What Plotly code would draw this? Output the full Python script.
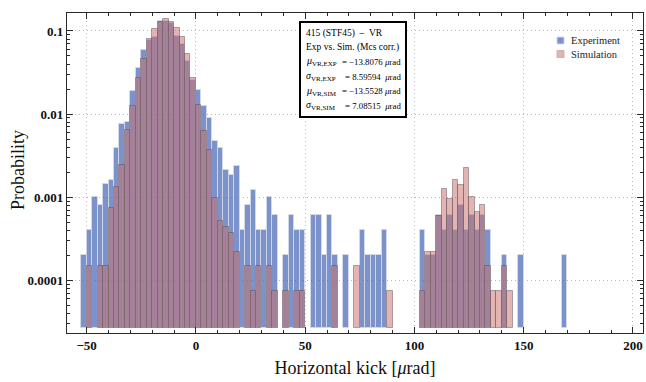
import numpy as np
import plotly.graph_objects as go

# ---- data (probability per 2.5 urad bin) ----
bin_width = 2.5
bin_left = np.arange(-52.5, 170.0, bin_width)   # left edges of bins
experiment = [
    2.04e-4, 4.08e-4, 1.02e-3, 8.16e-4, 1.43e-3, 1.63e-3, 3.87e-3, 7.5e-3, 8.1e-3, 1.9e-2,
    3.55e-2, 5.9e-2, 7.7e-2, 8.4e-2, 0.132, 0.130, 0.126, 0.088, 0.069, 0.043,
    0.0255, 0.0195, 0.0126, 9.1e-3, 4.7e-3, 3.9e-3, 2.1e-3, 1.85e-3, 2.4e-3, 4.08e-4,
    8.16e-4, 1.22e-3, 4.08e-4, 4.08e-4, 1.02e-3, 6.12e-4, 0, 2.04e-4, 6.12e-4, 4.08e-4,
    4.08e-4, 0, 6.12e-4, 6.12e-4, 2.04e-4, 6.12e-4, 2.04e-4, 0, 2.04e-4, 0,
    0, 4.08e-4, 2.04e-4, 2.04e-4, 2.04e-4, 4.08e-4, 0, 0, 0, 0,
    0, 0, 4.08e-4, 2.04e-4, 2.04e-4, 6.12e-4, 4.08e-4, 6.12e-4, 4.08e-4, 8.16e-4,
    4.08e-4, 6.12e-4, 4.08e-4, 6.12e-4, 4.08e-4, 0, 0, 2.04e-4, 0, 0,
    2.04e-4, 0, 0, 0, 0, 0, 0, 0, 2.04e-4,
]
simulation = [
    0, 1.48e-4, 0, 1.48e-4, 1.48e-4, 7.4e-4, 1.32e-3, 2.44e-3, 6.4e-3, 1.25e-2,
    2.69e-2, 4.56e-2, 7.9e-2, 0.107, 0.129, 0.138, 0.127, 0.110, 0.0855, 0.0528,
    0.027, 0.0129, 6.2e-3, 3.7e-3, 9.8e-4, 5.2e-4, 4.4e-4, 3.7e-4, 2.2e-4, 0,
    1.48e-4, 7.4e-5, 1.48e-4, 0, 1.48e-4, 7.4e-5, 0, 7.4e-5, 0, 7.4e-5,
    7.4e-5, 0, 0, 0, 0, 0, 1.48e-4, 0, 0, 0,
    1.48e-4, 0, 0, 0, 0, 0, 7.4e-5, 0, 0, 0,
    0, 0, 7.4e-5, 2.22e-4, 2.22e-4, 5.9e-4, 1.24e-3, 9.4e-4, 1.6e-3, 1.4e-3,
    2.25e-3, 1.0e-3, 6.6e-4, 8.0e-4, 1.48e-4, 7.4e-5, 7.4e-5, 1.48e-4, 7.4e-5, 0,
    0, 0, 0, 0, 0, 0, 0, 0, 0,
]
x_ticks = [-50, 0, 50, 100, 150, 200]
y_ticks = [1e-4, 1e-3, 1e-2, 1e-1]
y_ticktext = ["0.0001", "0.001", "0.01", "0.1"]
info_lines = [
    ("415 (STF45)  \u2013  VR", None),
    ("Exp vs. Sim. (Mcs corr.)", None),
    ("<i>\u03bc</i><sub>VR,EXP</sub>", "= \u221213.8076 <i>\u03bc</i>rad"),
    ("<i>\u03c3</i><sub>VR,EXP</sub>", "= 8.59594  <i>\u03bc</i>rad"),
    ("<i>\u03bc</i><sub>VR,SIM</sub>", "= \u221213.5528 <i>\u03bc</i>rad"),
    ("<i>\u03c3</i><sub>VR,SIM</sub>", "= 7.08515  <i>\u03bc</i>rad"),
]
series_names = ["Experiment", "Simulation"]
x_title = "Horizontal kick [<i>\u03bc</i>rad]"
y_title = "Probability"

BASE = 2.67e-5
centers = bin_left + bin_width / 2

blue_fill = "rgba(62,95,178,0.68)"
pink_fill = "rgba(204,112,108,0.52)"
blue_edge = "rgba(215,218,232,0.85)"
pink_edge = "rgba(85,75,85,0.45)"

def heights(vals):
    return [v - BASE if v > 0 else None for v in vals]

fig = go.Figure()
fig.add_trace(go.Bar(x=centers, y=heights(experiment), base=BASE, width=bin_width,
                     name=series_names[0], showlegend=False,
                     marker=dict(color=blue_fill, line=dict(color=blue_edge, width=1))))
fig.add_trace(go.Bar(x=centers, y=heights(simulation), base=BASE, width=bin_width,
                     name=series_names[1], showlegend=False,
                     marker=dict(color=pink_fill, line=dict(color=pink_edge, width=1))))

W, H = 646, 382
L, R, T, B = 67, 3, 13, 49
pw, ph = W - L - R, H - T - B

def px(x):
    return (x - L) / pw

def py(y):
    return (H - B - y) / ph

font_family = "Liberation Serif"
axis_common = dict(
    showline=True, linecolor="#2a2a2a", linewidth=1.3, mirror="allticks",
    ticks="inside", ticklen=6, tickwidth=1, tickcolor="#2a2a2a",
    showgrid=True, gridcolor="#b8b8b8", griddash="1px,3px", gridwidth=1,
    zeroline=False,
    tickfont=dict(family=font_family, size=13, color="#111", weight="bold"),
)

fig.update_layout(
    width=W, height=H, margin=dict(l=L, r=R, t=T, b=B),
    paper_bgcolor="white", plot_bgcolor="white",
    barmode="overlay", bargap=0, showlegend=False,
    font=dict(family=font_family, color="#111"),
    xaxis=dict(range=[-59.0, 204.6], tickvals=x_ticks, **axis_common,
               minor=dict(dtick=10, tick0=0, ticks="inside", ticklen=3, tickcolor="#2a2a2a", showgrid=False),
               title=dict(text=x_title, font=dict(size=18, family=font_family), standoff=9)),
    yaxis=dict(type="log", range=[-4.633, -0.784], tickvals=y_ticks, ticktext=y_ticktext, **axis_common,
               minor=dict(tickvals=[k * 10.0 ** e for e in range(-5, 0) for k in range(2, 10)],
                          ticks="inside", ticklen=3, tickcolor="#2a2a2a", showgrid=False)),
)

# y-axis title placed as rotated text
fig.add_annotation(xref="paper", yref="paper", x=px(18), y=py(170), text=y_title,
                   textangle=-90, showarrow=False, xanchor="center", yanchor="middle",
                   font=dict(size=18, family=font_family, color="#111"))

# info box
fig.add_shape(type="rect", xref="paper", yref="paper",
              x0=px(300), x1=px(406), y0=py(117), y1=py(22),
              line=dict(color="black", width=2), fillcolor="white", layer="above")
line_y = [33.5, 47.5, 62, 76.5, 91, 105.5]
for (lab, val), yy in zip(info_lines, line_y):
    fig.add_annotation(xref="paper", yref="paper", x=px(304), y=py(yy), text=lab,
                       showarrow=False, xanchor="left", yanchor="middle",
                       font=dict(size=9.5 if val is None else 10, family=font_family, color="black"))
    if val is not None:
        fig.add_annotation(xref="paper", yref="paper", x=px(403), y=py(yy), text=val,
                           showarrow=False, xanchor="right", yanchor="middle",
                           font=dict(size=8.8, family=font_family, color="black"))

# legend (manual)
for name, fill, edge, yc in [(series_names[0], blue_fill, blue_edge, 40.5),
                             (series_names[1], pink_fill, "rgba(200,170,170,0.9)", 54)]:
    fig.add_shape(type="rect", xref="paper", yref="paper",
                  x0=px(557), x1=px(564), y0=py(yc + 3.5), y1=py(yc - 3.5),
                  line=dict(color=edge, width=1), fillcolor=fill)
    fig.add_annotation(xref="paper", yref="paper", x=px(569), y=py(yc), text=name,
                       showarrow=False, xanchor="left", yanchor="middle",
                       font=dict(size=10.5, family=font_family, color="#222"))

fig.write_html("out.html")
